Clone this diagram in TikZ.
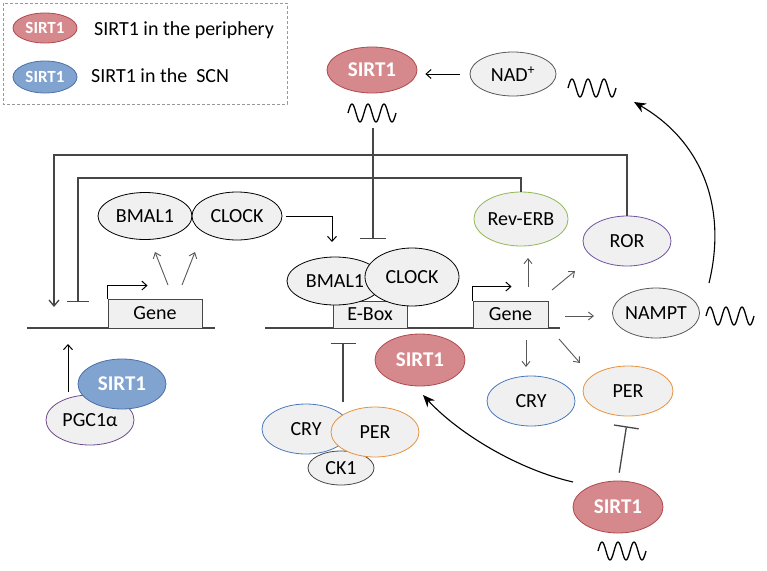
\documentclass[tikz,border=0pt]{standalone}
\usepackage{fontspec}
\setmainfont{Carlito}
\usetikzlibrary{shapes.geometric,arrows.meta}
\definecolor{redfill}{RGB}{214,137,140}
\definecolor{redline}{RGB}{176,72,78}
\definecolor{bluefill}{RGB}{128,163,208}
\definecolor{blueline}{RGB}{76,112,168}
\definecolor{gfill}{RGB}{240,240,240}
\definecolor{cryline}{RGB}{74,122,188}
\definecolor{perline}{RGB}{232,146,62}
\definecolor{revline}{RGB}{146,184,86}
\definecolor{rorline}{RGB}{112,84,164}
\definecolor{pgcline}{RGB}{112,76,142}
\definecolor{arrgray}{RGB}{88,88,88}
\definecolor{lingray}{RGB}{70,70,70}
\begin{document}
\begin{tikzpicture}[x=1pt,y=-1pt,
  txt/.style={font=\fontsize{20}{24}\selectfont},
  sz/.style 2 args={minimum width=#1pt, minimum height=#2pt},
  el/.style={ellipse, draw=black, fill=gfill, inner sep=0pt, line width=0.8pt, txt},
  sirtR/.style={el, fill=redfill, draw=redline, text=white, font=\fontsize{21}{24}\selectfont\bfseries},
  sirtB/.style={el, fill=bluefill, draw=blueline, text=white, font=\fontsize{21}{24}\selectfont\bfseries},
  boxn/.style={rectangle, draw=lingray, fill=gfill, inner sep=0pt, line width=0.9pt, txt},
  garr/.style={draw=arrgray, line width=0.9pt, -{Straight Barb[length=5pt,width=8pt]}},
  barr/.style={draw=black, line width=1pt, -{Straight Barb[length=5pt,width=9pt]}},
  carr/.style={draw=black, line width=1.1pt, -{Stealth[length=12pt,width=10pt,inset=4pt]}},
  fb/.style={draw=lingray, line width=1.3pt},
  inh/.style={draw=lingray, line width=1.3pt, -{Bar[width=#1pt,line width=1.3pt]}},
  inh/.default=26,
  base/.style={draw=lingray, line width=1.2pt},
  wave/.pic={\draw[line width=1.3pt, line join=round] (-24,0) sin (-20,-9) cos (-16,0) sin (-12,9) cos (-8,0) sin (-4,-9) cos (0,0) sin (4,9) cos (8,0) sin (12,-9) cos (16,0) sin (20,9) cos (24,0);}
]
\useasboundingbox (0,0) rectangle (767,570);

% legend
\draw[draw=gray!80, line width=0.8pt, dash pattern=on 3pt off 2pt] (3,3) rectangle (287,104);
\node[sirtR, sz={64}{30}, font=\fontsize{17}{20}\selectfont\bfseries] (legR) at (45,28) {SIRT1};
\node[sirtB, sz={64}{32}, font=\fontsize{17}{20}\selectfont\bfseries] (legB) at (45,77) {SIRT1};
\node[txt, anchor=west, inner sep=0pt] (legRt) at (94,30) {SIRT1 in the periphery};
\node[txt, anchor=west, inner sep=0pt] (legBt) at (91,76) {SIRT1 in the~ SCN};

% top SIRT1 and NAD+
\node[sirtR, sz={90}{46}] (sTop) at (372,70) {SIRT1};
\node[el, sz={86}{44}, draw=arrgray] (nad) at (513,74) {NAD\textsuperscript{+}};
\pic at (372,113) {wave};
\pic at (592,88) {wave};
\draw[barr, shorten <=10pt, shorten >=8pt] (nad.west) -- (nad.west -| sTop.east);

% feedback lines
\coordinate (fbArr) at (54,307);
\coordinate (fbBar) at (78,302);
\coordinate (fbOutC) at (627,155);
\coordinate (fbInC) at (521,178);

% right side nodes
\node[el, sz={88}{54}, draw=revline] (rev) at (521,219) {Rev-ERB};
\node[el, sz={88}{50}, draw=rorline] (ror) at (627,241) {ROR};
\node[el, sz={80}{50}, draw=arrgray] (nampt) at (656,313) {NAMPT};
\pic at (730,316) {wave};

\draw[fb, -{Straight Barb[length=6pt,width=10pt]}] (ror.north) -- (fbOutC) -| (fbArr);
\draw[fb, -{Bar[width=22pt,line width=1.3pt]}] (rev.north) -- (fbInC) -| (fbBar);

% top SIRT1 inhibition of E-box
\coordinate (wTopEnd) at (373,128);
\coordinate (eInh) at (373,239);
\draw[inh] (wTopEnd) -- (eInh);

% left gene region
\draw[base] (27,328) -- (215,328);
\node[boxn, sz={94}{29}] (g1) at (155,313.5) {Gene};
\draw[barr] (g1.north west) -- ++(0,-13) -- ++(40,0);
\node[el, sz={94}{47}] (b1) at (145,216) {BMAL1};
\node[el, sz={90}{48}] (c1) at (237,216) {CLOCK};
\coordinate (g1a) at (168,285); \coordinate (g1at) at (155,252);
\coordinate (g1b) at (182,285); \coordinate (g1bt) at (195,252);
\draw[garr] (g1a) -- (g1at);
\draw[garr] (g1b) -- (g1bt);
\coordinate (c1t) at (332,242);
\draw[barr, shorten <=4pt] (c1.east) -| (c1t);

% PGC1a / SIRT1 (SCN)
\node[el, sz={88}{50}, draw=pgcline] (pgc) at (90,420) {PGC1α};
\node[sirtB, sz={88}{50}] (sB) at (122,384) {SIRT1};
\coordinate (pgcA) at (68,392); \coordinate (pgcAt) at (68,344);
\draw[barr] (pgcA) -- (pgcAt);

% middle E-box region
\draw[base] (265,328) -- (560,328);
\node[boxn, sz={74}{27}] (ebox) at (370,314.5) {E-Box};
\node[el, sz={96}{48}] (b2) at (335,281) {BMAL1};
\node[el, sz={94}{58}] (c2) at (412,277) {CLOCK};

% right gene
\node[boxn, sz={75}{27}] (g2) at (510.5,314.5) {Gene};
\draw[barr] (g2.north west) -- ++(0,-14) -- ++(39,0);
\coordinate (a1s) at (528,287); \coordinate (a1t) at (528,258);
\coordinate (a2s) at (552,290); \coordinate (a2t) at (575,271);
\coordinate (a3s) at (565,316); \coordinate (a3t) at (594,316);
\coordinate (a4s) at (526,340); \coordinate (a4t) at (526,367);
\coordinate (a5s) at (559,339); \coordinate (a5t) at (580,363);
\draw[garr] (a1s) -- (a1t);
\draw[garr] (a2s) -- (a2t);
\draw[garr] (a3s) -- (a3t);
\draw[garr] (a4s) -- (a4t);
\draw[garr] (a5s) -- (a5t);

% NAMPT -> NAD+ curve
\coordinate (nS) at (709,283);
\coordinate (nT) at (634,102);
\draw[carr] (nS) .. controls (728,205) and (700,140) .. (nT);

% lower middle
\node[sirtR, sz={90}{52}] (sMid) at (420,360) {SIRT1};
\node[el, sz={66}{34}, draw=lingray] (ck1) at (341,468) {CK1};
\node[el, sz={88}{50}, draw=cryline] (cry1) at (306,429) {CRY};
\node[el, sz={88}{50}, draw=perline] (per1) at (375,432) {PER};
\coordinate (cpTop) at (343,402); \coordinate (cpInh) at (343,343);
\draw[inh=25] (cpTop) -- (cpInh);

% lower right
\node[el, sz={88}{50}, draw=cryline] (cry2) at (531,401) {CRY};
\node[el, sz={90}{50}, draw=perline] (per2) at (628,391) {PER};
\node[sirtR, sz={90}{52}] (sBot) at (618,507) {SIRT1};
\pic at (622,551) {wave};
\draw[inh=25, shorten <=8pt, shorten >=10pt] (sBot.north) -- (per2.south);
\coordinate (sbS) at (573,482);
\coordinate (sbT) at (423,395);
\draw[carr] (sbS) .. controls (520,470) and (460,435) .. (sbT);
\end{tikzpicture}
\end{document}
